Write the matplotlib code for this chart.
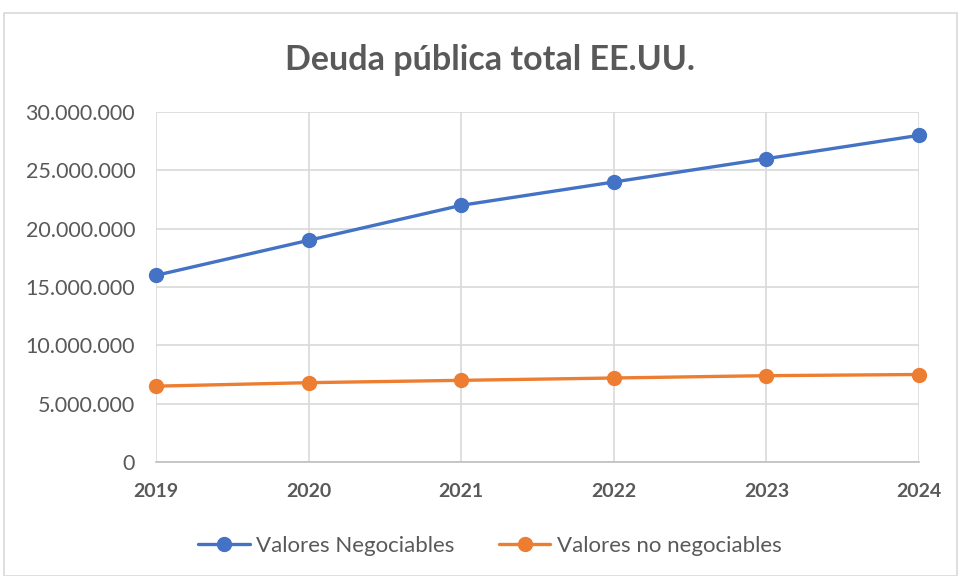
import matplotlib
matplotlib.use("Agg")
import matplotlib.pyplot as plt
from matplotlib.ticker import FuncFormatter, MultipleLocator
from matplotlib.patches import Rectangle

years = [2019, 2020, 2021, 2022, 2023, 2024]
negociables = [16000000, 19000000, 22000000, 24000000, 26000000, 28000000]
no_negociables = [6500000, 6800000, 7000000, 7200000, 7400000, 7500000]
series_names = ["Valores Negociables", "Valores no negociables"]
title = "Deuda pública total EE.UU."

plt.rcParams['font.family'] = ['Lato', 'DejaVu Sans']

fig = plt.figure(figsize=(9.61, 5.76), dpi=100)
fig.patches.append(Rectangle((4/961, 0), 953/961, 1 - 13/576, transform=fig.transFigure,
                             fill=False, edgecolor="#D9D9D9", linewidth=1.2))
ax = fig.add_axes([156/961, 1 - 462/576, (919 - 156)/961, (462 - 112)/576])

blue = "#4472C4"
orange = "#ED7D31"
ax.plot(years, negociables, color=blue, lw=2.4, marker="o", ms=10, label=series_names[0],
        solid_capstyle="round", zorder=3, clip_on=False)
ax.plot(years, no_negociables, color=orange, lw=2.4, marker="o", ms=10, label=series_names[1],
        solid_capstyle="round", zorder=3, clip_on=False)

ax.set_xlim(years[0], years[-1])
ax.set_ylim(0, 30000000)
ax.yaxis.set_major_locator(MultipleLocator(5000000))
ax.yaxis.set_major_formatter(FuncFormatter(lambda v, p: f"{int(v):,}".replace(",", ".")))
ax.set_xticks(years)
ax.set_xticklabels([str(y) for y in years], fontweight="bold")

ax.grid(True, color="#D9D9D9", lw=1.2)
ax.set_axisbelow(True)
for s in ["top", "right", "left"]:
    ax.spines[s].set_visible(False)
ax.spines["bottom"].set_color("#BFBFBF")
ax.spines["bottom"].set_linewidth(1.2)
ax.tick_params(axis="both", length=0, labelcolor="#595959")
ax.tick_params(axis="x", pad=15, labelsize=14)
ax.tick_params(axis="y", pad=15, labelsize=15.5)

fig.text(490/961, 1 - 60/576, title, ha="center", va="center", fontsize=24.5,
         fontweight="bold", color="#595959")

leg = fig.legend(loc="center", bbox_to_anchor=(490/961, 1 - 546/576), ncol=2, frameon=False,
                 fontsize=16, handlelength=2.3, columnspacing=2.0, handletextpad=0.3)
for t in leg.get_texts():
    t.set_color("#595959")

fig.savefig("out.png", dpi=100)
